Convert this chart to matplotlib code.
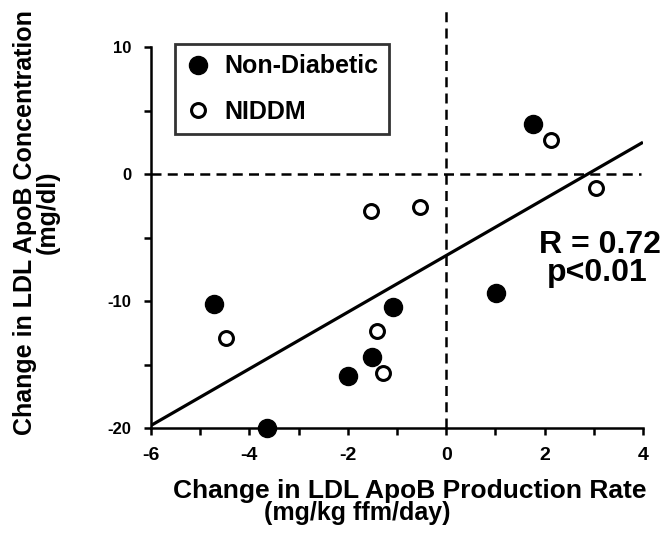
import matplotlib.pyplot as plt
from matplotlib.ticker import MultipleLocator

plt.rcParams['font.family'] = ['Liberation Sans', 'DejaVu Sans']
plt.rcParams['font.weight'] = 'bold'
plt.rcParams['axes.unicode_minus'] = False

# data
nd_x = [1.77, 1.02, -4.72, -1.08, -1.50, -1.99, -3.64]
nd_y = [3.9, -9.4, -10.2, -10.5, -14.4, -15.9, -20.0]
niddm_x = [2.13, 3.05, -1.52, -0.53, -4.47, -1.40, -1.28]
niddm_y = [2.7, -1.1, -2.9, -2.6, -12.9, -12.4, -15.7]
fit_x = [-6, 4]
fit_y = [-19.8, 2.5]

fig = plt.figure(figsize=(6.65, 5.33), dpi=100)
ax = fig.add_axes([151/665, 1 - 428/533, 492/665, 381/533])

ax.plot(fit_x, fit_y, color='black', lw=2.3, solid_capstyle='butt', zorder=2)
ax.plot([0, 0], [-20, 12.8], color='black', lw=1.8, ls=(0, (4, 2.5)), clip_on=False, zorder=1)
ax.plot([-6, 3.95], [0, 0], color='black', lw=1.8, ls=(0, (4, 2.5)), clip_on=False, zorder=1)

ax.plot(nd_x, nd_y, 'o', ms=13, mfc='black', mec='black', clip_on=False,
        label='Non-Diabetic', zorder=3)
ax.plot(niddm_x, niddm_y, 'o', ms=10, mfc='white', mec='black', mew=2.2, clip_on=False,
        label='NIDDM', zorder=3)

ax.set_xlim(-6, 4)
ax.set_ylim(-20, 10)
ax.xaxis.set_major_locator(MultipleLocator(2))
ax.xaxis.set_minor_locator(MultipleLocator(1))
ax.yaxis.set_major_locator(MultipleLocator(10))
ax.yaxis.set_minor_locator(MultipleLocator(5))
for s in ['top', 'right']:
    ax.spines[s].set_visible(False)
for s in ['left', 'bottom']:
    ax.spines[s].set_linewidth(1.8)
ax.tick_params(which='both', direction='out', length=5, width=1.8)
ax.tick_params(axis='x', which='major', pad=9, labelsize=14)
ax.tick_params(axis='y', which='major', pad=9, labelsize=12)
ax.patch.set_alpha(0)

leg = ax.legend(loc='upper left', bbox_to_anchor=(0.049, 1.008), borderaxespad=0,
                frameon=True, fancybox=False, edgecolor='black', fontsize=18,
                handlelength=1.0, handletextpad=0.55, labelspacing=0.85, borderpad=0.42,
                numpoints=1)
leg.get_frame().set_linewidth(2)
for t in leg.get_texts():
    t.set_fontweight('bold')

ax.text(3.13, -6.2, 'R = 0.72', fontsize=23, fontweight='bold', ha='center', va='baseline')
ax.text(3.07, -8.4, 'p<0.01', fontsize=23, fontweight='bold', ha='center', va='baseline')

fig.text(410/665, 1 - 491/533, 'Change in LDL ApoB Production Rate', fontsize=19,
         fontweight='bold', ha='center', va='center')
fig.text(357/665, 1 - 513/533, '(mg/kg ffm/day)', fontsize=18,
         fontweight='bold', ha='center', va='center')
fig.text(25/665, 1 - 223/533, 'Change in LDL ApoB Concentration', fontsize=18,
         fontweight='bold', ha='center', va='center', rotation=90)
fig.text(48/665, 1 - 212/533, '(mg/dl)', fontsize=18,
         fontweight='bold', ha='center', va='center', rotation=90)

fig.savefig('out.png', dpi=100)
